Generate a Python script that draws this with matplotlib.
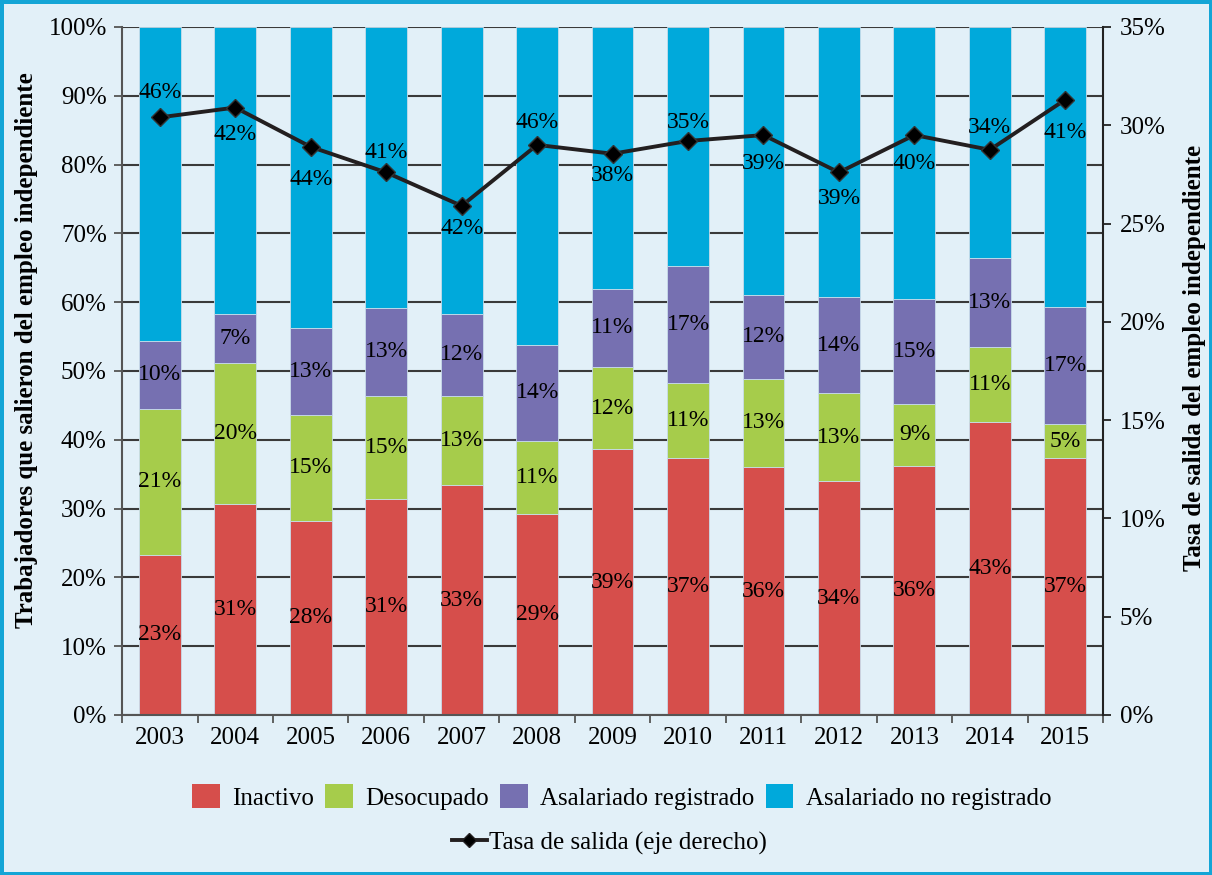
import matplotlib
matplotlib.use("Agg")
import matplotlib.pyplot as plt
from matplotlib.patches import Patch
from matplotlib.lines import Line2D
import numpy as np

plt.rcParams['font.family'] = ['Liberation Serif', 'DejaVu Serif']

years = ['2003', '2004', '2005', '2006', '2007', '2008', '2009',
         '2010', '2011', '2012', '2013', '2014', '2015']

# shares of each destination (%)
inactivo = [23.3, 30.7, 28.2, 31.4, 33.4, 29.2, 38.6, 37.4, 36.0, 34.0, 36.2, 42.6, 37.3]
desocupado = [21.2, 20.4, 15.4, 15.0, 13.0, 10.6, 12.0, 10.8, 12.9, 12.8, 9.0, 10.9, 5.0]
asal_reg = [9.9, 7.2, 12.6, 12.8, 11.9, 14.0, 11.3, 17.0, 12.1, 13.9, 15.2, 12.9, 17.0]
asal_noreg = [45.6, 41.7, 43.8, 40.8, 41.7, 46.2, 38.1, 34.8, 39.0, 39.3, 39.6, 33.6, 40.7]

# exit rate, right axis (%)
tasa_salida = [30.4, 30.9, 28.9, 27.6, 25.9, 29.0, 28.55, 29.2, 29.5, 27.6, 29.5, 28.75, 31.3]

series = [('Inactivo', inactivo, '#D64E4B'),
          ('Desocupado', desocupado, '#A6CC4B'),
          ('Asalariado registrado', asal_reg, '#7670B1'),
          ('Asalariado no registrado', asal_noreg, '#00A9DB')]

# offsets (pixels) of the top segment labels relative to the line markers
top_label_offset = [-25, 27, 33, -20, 23, -22, 22, -18, 28, 26, 28, -22, 33]

fs = 17
bg = '#E2F0F8'
fig = plt.figure(figsize=(12.12, 8.75), dpi=100, facecolor=bg,
                 edgecolor='#14A5D6', linewidth=5)
ax = fig.add_axes([0.1007, 0.1829, 0.8094, 0.7863])
ax.set_facecolor(bg)

x = np.arange(len(years))
bottom = np.zeros(len(years))
for name, vals, col in series:
    vals = np.array(vals)
    ax.bar(x, vals, 0.555, bottom=bottom, color=col, label=name, zorder=2,
           edgecolor='#c8dcea', linewidth=0.6)
    if name != 'Asalariado no registrado':
        for xi, b, v in zip(x, bottom, vals):
            ax.text(xi, b + v / 2, f'{round(v):.0f}%', ha='center', va='center',
                    fontsize=fs, zorder=5)
    bottom += vals

ax.set_xlim(-0.5, len(years) - 0.5)
ax.set_ylim(0, 100)
ax.set_yticks(np.arange(0, 101, 10))
ax.set_yticklabels([f'{v}%' for v in range(0, 101, 10)], fontsize=18)
ax.set_xticks(x)
ax.set_xticklabels(years, fontsize=18)
ax.set_xticks(np.arange(-0.5, len(years), 1), minor=True)
ax.tick_params(axis='x', which='major', length=0, pad=9)
ax.tick_params(axis='x', which='minor', length=6, width=1.3, color='#555555', direction='out')
ax.tick_params(axis='y', length=6, width=1.3, color='#555555', pad=5)
ax.yaxis.grid(True, color='#3a3a3a', linewidth=1.5, zorder=0)
ax.set_axisbelow(True)
for s in ['top', 'right']:
    ax.spines[s].set_visible(False)
ax.spines['left'].set_color('#555555')
ax.spines['left'].set_linewidth(1.5)
ax.spines['bottom'].set_color('#555555')
ax.spines['bottom'].set_linewidth(1.5)
ax.set_ylabel('Trabajadores que salieron del empleo independiente',
              fontsize=18, fontweight='bold')
ax.yaxis.set_label_coords(-0.0856, 0.53)

ax2 = ax.twinx()
ax2.set_ylim(0, 35)
ax2.set_yticks(np.arange(0, 36, 5))
ax2.set_yticklabels([f'{v}%' for v in range(0, 36, 5)], fontsize=18)
ax2.tick_params(axis='y', length=6, width=1.3, color='#222222', pad=6)
for s in ['top', 'left', 'bottom']:
    ax2.spines[s].set_visible(False)
ax2.spines['right'].set_color('#222222')
ax2.spines['right'].set_linewidth(1.5)
ax2.plot(x, tasa_salida, color='#231F20', linewidth=2.8, marker='D',
         markersize=9.5, markerfacecolor='black', markeredgecolor='#333333', zorder=4)
ax2.set_ylabel('Tasa de salida del empleo independiente',
               fontsize=18, fontweight='bold')
ax2.yaxis.set_label_coords(1.0815, 0.519)

# top segment labels sit next to the line markers
for xi, t, v, off in zip(x, tasa_salida, asal_noreg, top_label_offset):
    ax2.annotate(f'{round(v):.0f}%', (xi, t), xytext=(0, -off * 0.72),
                 textcoords='offset points', ha='center', va='center',
                 fontsize=fs, zorder=6)

handles = [Patch(facecolor=c, edgecolor='none') for _, _, c in series]
fig.legend(handles, [n for n, _, _ in series], loc='center',
           bbox_to_anchor=(0.513, 1 - 797 / 875), ncol=4, frameon=False,
           fontsize=18, handlelength=1.1, handleheight=1.1,
           columnspacing=0.45, handletextpad=0.5)
line_h = Line2D([], [], color='#231F20', linewidth=2.8, marker='D',
                markersize=7, markerfacecolor='black')
fig.legend([line_h], ['Tasa de salida (eje derecho)'], loc='center',
           bbox_to_anchor=(0.503, 1 - 843 / 875), frameon=False, fontsize=18,
           handlelength=1.4, handletextpad=0.1)

fig.savefig('out.png', dpi=100, facecolor=bg, edgecolor=fig.get_edgecolor())
